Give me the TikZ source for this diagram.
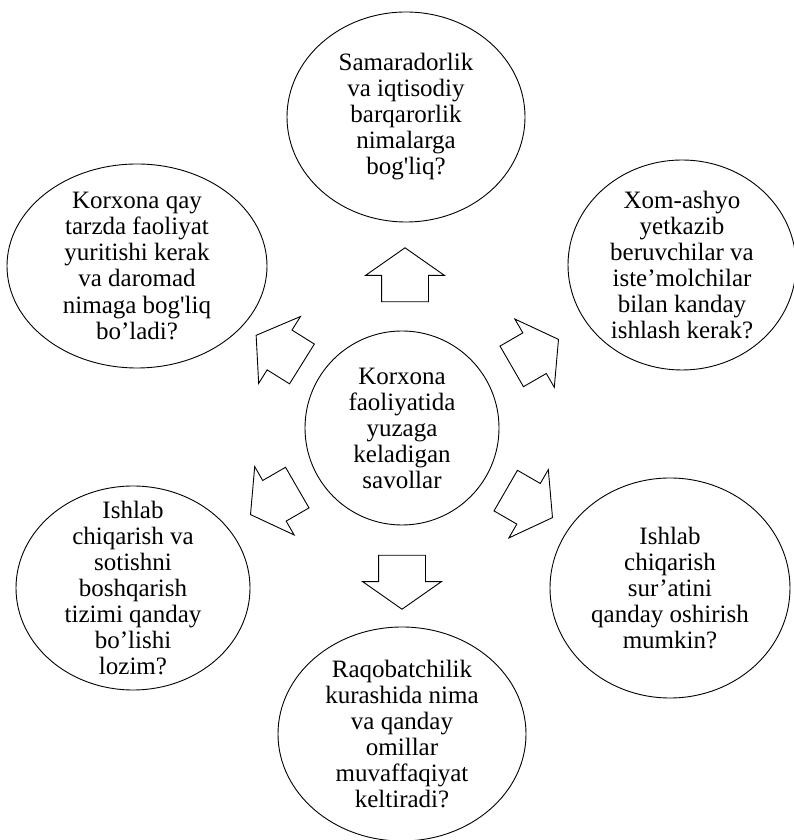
\documentclass[tikz,border=0pt]{standalone}
\usepackage{fontspec}
\setmainfont{Liberation Serif}
\usetikzlibrary{shapes.geometric,shapes.arrows,positioning}

\begin{document}
\begin{tikzpicture}[
  x=1pt, y=1pt,
  oval/.style={draw, ellipse, inner xsep=0pt, inner ysep=-20pt, align=center,
               line width=0.9pt, font=\fontsize{25}{26}\selectfont},
  bigarr/.style={draw, single arrow, line width=0.9pt, inner sep=0pt,
                 text height=23pt, text depth=23pt, minimum height=54pt,
                 single arrow head extend=16pt, single arrow tip angle=110}
]
  \useasboundingbox (0,0) rectangle (793,840);

  % Centre
  \node[oval, minimum width=194pt, minimum height=194pt] (centre) at (402,412)
    {Korxona\\faoliyatida\\yuzaga\\keladigan\\savollar};

  % Questions round the centre
  \node[oval, minimum width=238pt, minimum height=210pt] (top) at (406,723)
    {Samaradorlik\\va iqtisodiy\\barqarorlik\\nimalarga\\bog\textquotesingle liq?};
  \node[oval, minimum width=260pt, minimum height=204pt] (upleft) at (137,574)
    {Korxona qay\\tarzda faoliyat\\yuritishi kerak\\va daromad\\nimaga bog\textquotesingle liq\\bo’ladi?};
  \node[oval, minimum width=228pt, minimum height=210pt] (upright) at (682,575)
    {Xom-ashyo\\yetkazib\\beruvchilar va\\iste’molchilar\\bilan kanday\\ishlash kerak?};
  \node[oval, minimum width=234pt, minimum height=204pt] (lowleft) at (133,252)
    {Ishlab\\chiqarish va\\sotishni\\boshqarish\\tizimi qanday\\bo’lishi\\lozim?};
  \node[oval, minimum width=240pt, minimum height=220pt] (lowright) at (670,252)
    {Ishlab\\chiqarish\\sur’atini\\qanday oshirish\\mumkin?};
  \node[oval, minimum width=248pt, minimum height=214pt] (bottom) at (402,106)
    {Raqobatchilik\\kurashida nima\\va qanday\\omillar\\muvaffaqiyat\\keltiradi?};

  % Block arrows
  \node[bigarr, rotate=90]  (a-top)      at (405,557) {};
  \node[bigarr, rotate=148] (a-upleft)   at (286,486) {};
  \node[bigarr, rotate=30]  (a-upright)  at (528,483) {};
  \node[bigarr, rotate=210] (a-lowleft)  at (281,343) {};
  \node[bigarr, rotate=330] (a-lowright) at (522,340) {};
  \node[bigarr, rotate=270] (a-bottom)   at (402,266) {};
\end{tikzpicture}
\end{document}
